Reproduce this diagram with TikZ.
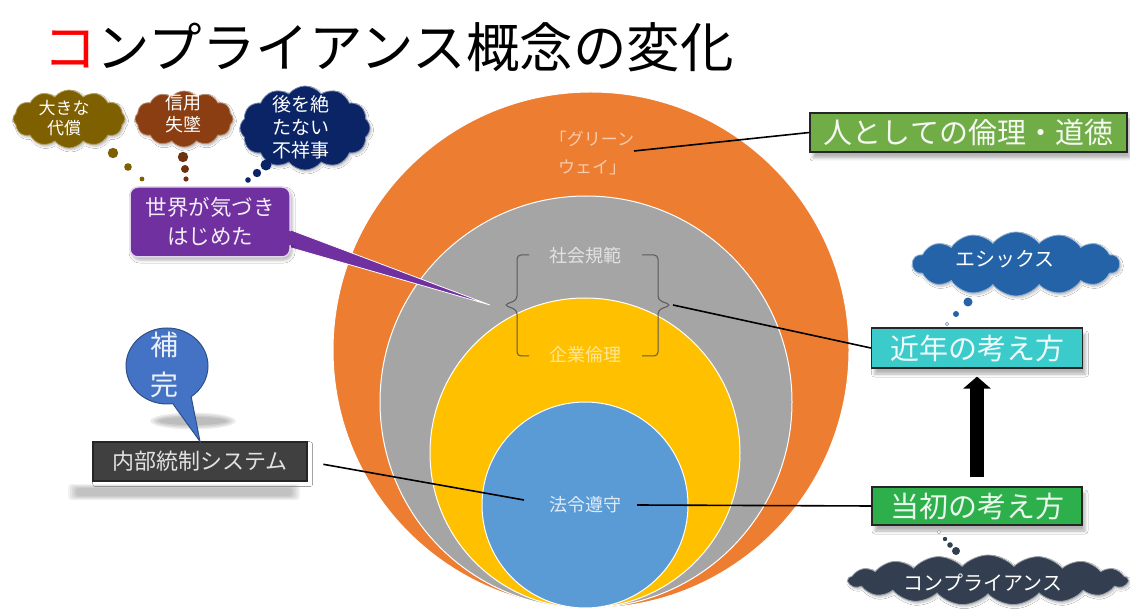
\documentclass[tikz,border=0pt]{standalone}
\usepackage{fontspec}
\setmainfont{Noto Sans CJK JP}
\usetikzlibrary{shapes.symbols,shapes.callouts,shadows.blur,arrows.meta,calc}
\definecolor{corange}{HTML}{ED7D31}
\definecolor{cgray}{HTML}{A5A5A5}
\definecolor{cyellow}{HTML}{FFC000}
\definecolor{cblue}{HTML}{5B9BD5}
\definecolor{cpeach}{HTML}{F8CBAD}
\definecolor{clgray}{HTML}{E2E2E2}
\definecolor{clyellow}{HTML}{FFE699}
\definecolor{clblue}{HTML}{DEEBF7}
\definecolor{cgreen}{HTML}{70AD47}
\definecolor{cturq}{HTML}{3CCBCB}
\definecolor{cgreen2}{HTML}{2DB04B}
\definecolor{cdark}{HTML}{404040}
\definecolor{cpurple}{HTML}{7030A0}
\definecolor{colive}{HTML}{7F6000}
\definecolor{cbrown}{HTML}{8B3E12}
\definecolor{cnavy}{HTML}{0B2466}
\definecolor{cethic}{HTML}{2563A8}
\definecolor{cslate}{HTML}{333F50}
\definecolor{chokan}{HTML}{4472C4}
\definecolor{cred}{HTML}{FF0000}
\begin{document}
\begin{tikzpicture}[x=1pt,y=-1pt,
  circ/.style={circle, draw=white, line width=1pt, inner sep=0},
  lab/.style={inner sep=0, align=center},
  brk/.style={draw=black!65, line width=1pt, rounded corners=4pt},
  conn/.style={draw=black, line width=1.6pt},
  box/.style={rectangle, draw=black!85, line width=1.2pt, inner sep=0,
    blur shadow={shadow xshift=3pt, shadow yshift=-6pt, shadow blur radius=3pt, shadow opacity=30}},
  cloudsh/.style={cloud, cloud puffs=12, cloud puff arc=105, cloud ignores aspect,
    inner sep=0, line width=0.8pt,
    blur shadow={shadow xshift=1.5pt, shadow yshift=-2pt, shadow blur radius=2pt, shadow opacity=25}},
  cltext/.style={inner sep=0, align=center, text=white},
  dotc/.style={line width=0.4pt},
  shbar/.style={fill=black, opacity=0.05}
]
\useasboundingbox (0,0) rectangle (1130,609);
\fill[white] (0,0) rectangle (1130,609);

% title
\node[anchor=west, inner sep=0, font=\fontsize{53.5}{54}\selectfont] (title) at (43,47)
  {\textcolor{cred}{コ}ンプライアンス概念の変化};

% nested circles
\node[circ, fill=corange, minimum size=516] (c1) at (591,350) {};
\node[circ, fill=cgray, minimum size=412] (c2) at (586,402) {};
\node[circ, fill=cyellow, minimum size=310] (c3) at (585,453) {};
\node[circ, fill=cblue, minimum size=206] (c4) at (585,505) {};

% circle labels
\node[lab, text=cpeach, font=\fontsize{17}{28}\selectfont] (gw) at (592,153) {「グリーン\\ウェイ」};
\node[lab, text=clgray, font=\fontsize{18}{18}\selectfont] (shakai) at (585,256) {社会規範};
\node[lab, text=clyellow, font=\fontsize{18}{18}\selectfont] (kigyo) at (585,355) {企業倫理};
\node[lab, text=clblue, font=\fontsize{18}{18}\selectfont] (hourei) at (585,505) {法令遵守};

% brackets
\draw[brk] (529,255) -- (517,255) -- (517,300) -- (504,305) -- (517,310) -- (517,356) -- (529,356);
\draw[brk] (642,255) -- (658,255) -- (658,300) -- (671,305) -- (658,310) -- (658,356) -- (642,356);
\coordinate (lb) at (490,305);
\coordinate (rb) at (673,305);
\coordinate (gwpt) at (634,151);
\coordinate (hrL) at (524,500);
\coordinate (hrR) at (637,505);

% right boxes
\node[box, fill=cgreen, text=white!92!cgreen, minimum width=317, minimum height=39,
  font=\fontsize{29}{29}\selectfont] (jinrin) at (968.5,132.5) {人としての倫理・道徳};
\node[box, fill=cturq, text=white!92!cturq, minimum width=211, minimum height=40,
  font=\fontsize{29}{29}\selectfont] (kinnen) at (977,348) {近年の考え方};
\node[box, fill=cgreen2, text=white!90!cgreen2, minimum width=210, minimum height=38,
  font=\fontsize{29}{29}\selectfont] (toshoku) at (977,506) {当初の考え方};

% connectors
\draw[conn] (jinrin.west) -- (gwpt);
\draw[conn] (kinnen.west) -- (rb);
\draw[conn] (toshoku.west) -- (hrR);

% up arrow
\draw[line width=14pt, -{Triangle[width=27pt,length=12pt]}, shorten <=9pt, shorten >=8pt]
  (toshoku.north) -- (kinnen.south);

% internal control box
\foreach \i in {0,...,4}
  \fill[shbar, rounded corners=3pt] (76-2*\i,488-\i) rectangle (292+2*\i,496+\i);
\node[box, fill=cdark, text=clgray, minimum width=214, minimum height=39,
  font=\fontsize{22}{22}\selectfont, blur shadow={shadow opacity=0}] (naibu) at (200,461.5) {内部統制システム};
\draw[conn, shorten <=16pt] (naibu.east) -- (hrL);

% hokan callout
\foreach \i in {0,...,3}
  \fill[shbar, opacity=0.07] (193,421) ellipse ({34+3*\i} and {4+1.5*\i});
\node[ellipse callout, callout absolute pointer={(naibu.north)}, callout pointer arc=28,
  fill=chokan, draw=chokan!70!black, line width=1pt, minimum width=82, minimum height=76,
  inner sep=0] (hokan) at (167,366) {};
\node[cltext, text=white!90!chokan, font=\fontsize{28}{40}\selectfont] (hokant) at (164,365) {補\\完};

% purple callout
\fill[cpurple, draw=white, line width=0.8pt] ($(288,229)$) -- (lb) -- ($(288,247)$) -- cycle;
\node[rounded corners=8pt, fill=cpurple, draw=white!80!cpurple, line width=1.5pt,
  minimum width=160, minimum height=70, inner sep=0, align=center, text=white!92!cpurple,
  font=\fontsize{21.5}{29}\selectfont,
  blur shadow={shadow xshift=2pt, shadow yshift=-3pt, shadow blur radius=3pt, shadow opacity=30}]
  (sekai) at (210,222) {世界が気づき\\はじめた};
\fill[cpurple] (286,230) -- (296,233) -- (296,244) -- (286,246) -- cycle;

% top-left thought clouds
\node[cloudsh, fill=colive, draw=colive!60!white, minimum width=112, minimum height=58] (cl1) at (69,119) {};
\node[cltext, font=\fontsize{17}{20}\selectfont] (cl1t) at (64,118) {大きな\\代償};
\node[cloudsh, fill=cbrown, draw=cbrown!60!white, minimum width=98, minimum height=56] (cl2) at (184,119) {};
\node[cltext, font=\fontsize{18}{22}\selectfont] (cl2t) at (183,114) {信用\\失墜};
\node[cloudsh, fill=cnavy, draw=cnavy!55!white, minimum width=130, minimum height=84] (cl3) at (305,128) {};
\node[cltext, font=\fontsize{19}{23}\selectfont] (cl3t) at (301,127) {後を絶\\たない\\不祥事};

\fill[colive, dotc] (113,153) circle (5.2) (128,167) circle (3.8) (142,179) circle (2.4);
\fill[cbrown!80!black, dotc] (183,157) circle (5.2) (185,169) circle (4) (186,179) circle (2.6);
\fill[cnavy, dotc] (266,165) circle (5.5) (257,173) circle (4.2) (248,180) circle (2.8);

% right thought clouds
\node[cloudsh, cloud puffs=14, fill=cethic, draw=cethic!50!white, minimum width=207, minimum height=64] (cl4) at (1016,264) {};
\node[cltext, font=\fontsize{20}{20}\selectfont] (cl4t) at (1005,259) {エシックス};
\fill[cethic, dotc] (968,302) circle (4.5) (956,314) circle (3);
\filldraw[fill=white, draw=cethic, dotc] (947,324) circle (1.6);

\node[cloudsh, cloud puffs=17, cloud puff arc=95, fill=cslate, draw=cslate!50!white, minimum width=280, minimum height=50] (cl5) at (988,580) {};
\node[cltext, font=\fontsize{20}{20}\selectfont] (cl5t) at (983,583) {コンプライアンス};
\filldraw[fill=white, draw=cslate!60, dotc] (939,532) circle (1.8);
\fill[cslate] (945,539) circle (2.2) (950,545) circle (2.8) (956,551) circle (4);
\end{tikzpicture}
\end{document}
